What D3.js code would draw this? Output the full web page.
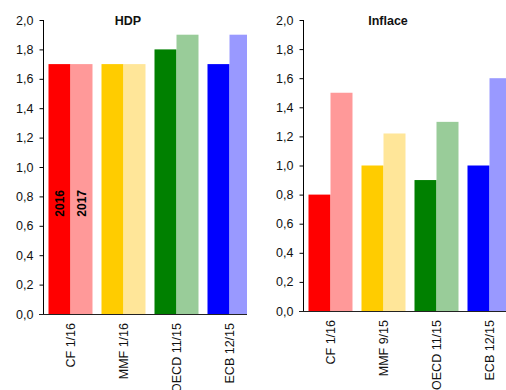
<!DOCTYPE html>
<html>
<head>
<meta charset="utf-8">
<script src="https://cdn.jsdelivr.net/npm/d3@7"></script>
<style>
  html, body { margin: 0; padding: 0; background: #fff; }
  svg { display: block; font-family: "Liberation Sans", Arial, sans-serif; }
</style>
</head>
<body>
<svg id="chart" width="506" height="390"></svg>
<script>
// Forecast data: GDP (HDP) and inflation (Inflace) for 2016 and 2017
const years = ["2016", "2017"];
const hdpCategories = ["CF 1/16", "MMF 1/16", "OECD 11/15", "ECB 12/15"];
const hdp2016 = [1.7, 1.7, 1.8, 1.7];
const hdp2017 = [1.7, 1.7, 1.9, 1.9];
const inflCategories = ["CF 1/16", "MMF 9/15", "OECD 11/15", "ECB 12/15"];
const infl2016 = [0.8, 1.0, 0.9, 1.0];
const infl2017 = [1.5, 1.22, 1.3, 1.6];
const yTicks = [0, 0.2, 0.4, 0.6, 0.8, 1.0, 1.2, 1.4, 1.6, 1.8, 2.0];

// one colour pair (2016 dark, 2017 light) per forecaster
const darkColors = ["#ff0000", "#ffcc00", "#008000", "#0000ff"];
const lightColors = ["#ff9999", "#ffe699", "#99cc99", "#9999ff"];

const svg = d3.select("#chart");
const fmt = d => d3.format(".1f")(d).replace(".", ",");

function panel(cfg) {
  const g = svg.append("g");
  const y = d3.scaleLinear().domain([0, 2]).range([cfg.bottom, cfg.top]);
  const x0 = d3.scaleBand()
    .domain(cfg.categories)
    .range([cfg.left + 1, cfg.left + 1 + 4 * 53])
    .paddingInner(9 / 53)
    .paddingOuter(4.5 / 53);
  const x1 = d3.scaleBand().domain(years).range([0, x0.bandwidth()]);

  const clipId = "clip-" + cfg.id;
  svg.append("clipPath").attr("id", clipId)
    .append("rect")
    .attr("x", cfg.left).attr("y", 0)
    .attr("width", cfg.right - cfg.left).attr("height", cfg.bottom + 1);

  const rows = cfg.categories.map((c, i) => ({
    cat: c, i,
    vals: [cfg.s2016[i], cfg.s2017[i]]
  }));

  const groups = g.append("g").attr("clip-path", `url(#${clipId})`)
    .selectAll("g").data(rows).join("g")
    .attr("transform", d => `translate(${x0(d.cat)},0)`);

  groups.selectAll("rect")
    .data(d => d.vals.map((v, k) => ({ year: years[k], v, i: d.i, k })))
    .join("rect")
    .attr("x", d => x1(d.year))
    .attr("width", x1.bandwidth())
    .attr("y", d => y(d.v))
    .attr("height", d => y(0) - y(d.v))
    .attr("fill", d => d.k === 0 ? darkColors[d.i] : lightColors[d.i]);

  // y axis
  const yAxis = d3.axisLeft(y).tickValues(yTicks).tickFormat(fmt)
    .tickSize(4).tickPadding(6);
  const ya = g.append("g").attr("transform", `translate(${cfg.left + 0.5},0)`).call(yAxis);
  ya.select(".domain").attr("stroke", "#000").attr("d", `M0,${cfg.top}V${cfg.bottom}`);
  ya.selectAll(".tick line").attr("stroke", "#000");
  ya.selectAll("text").attr("font-size", "12.5px").attr("fill", "#111")
    .attr("font-family", "Liberation Sans, Arial, sans-serif");

  // x axis baseline
  g.append("line")
    .attr("x1", cfg.left - 4).attr("x2", cfg.right)
    .attr("y1", y(0) + 0.5).attr("y2", y(0) + 0.5)
    .attr("stroke", "#222");

  // category labels, rotated
  g.selectAll(".cat").data(cfg.categories).join("text")
    .attr("class", "cat")
    .attr("transform", d => `translate(${x0(d) + x0.bandwidth() / 2},${y(0) + 9}) rotate(-90)`)
    .attr("text-anchor", "end")
    .attr("dy", "0.35em")
    .attr("font-size", "12.5px")
    .attr("fill", "#111")
    .text(d => d);

  // title
  g.append("text")
    .attr("x", cfg.titleX).attr("y", cfg.top + 5)
    .attr("text-anchor", "middle")
    .attr("font-size", "12.5px").attr("font-weight", "bold")
    .attr("fill", "#111")
    .text(cfg.title);

  return { x0, x1, y, g };
}

const left = panel({
  id: "hdp", title: "HDP", titleX: 128,
  categories: hdpCategories, s2016: hdp2016, s2017: hdp2017,
  left: 43, right: 247, top: 20, bottom: 314
});

panel({
  id: "infl", title: "Inflace", titleX: 388,
  categories: inflCategories, s2016: infl2016, s2017: infl2017,
  left: 303, right: 506, top: 20, bottom: 311
});

// year labels inside the first GDP bars
left.g.selectAll(".yr").data(years).join("text")
  .attr("class", "yr")
  .attr("transform", d => `translate(${left.x0(hdpCategories[0]) + left.x1(d) + left.x1.bandwidth() / 2},190) rotate(-90)`)
  .attr("text-anchor", "end")
  .attr("dy", "0.35em")
  .attr("font-size", "12px").attr("font-weight", "bold")
  .attr("fill", "#000")
  .text(d => d);
</script>
</body>
</html>
